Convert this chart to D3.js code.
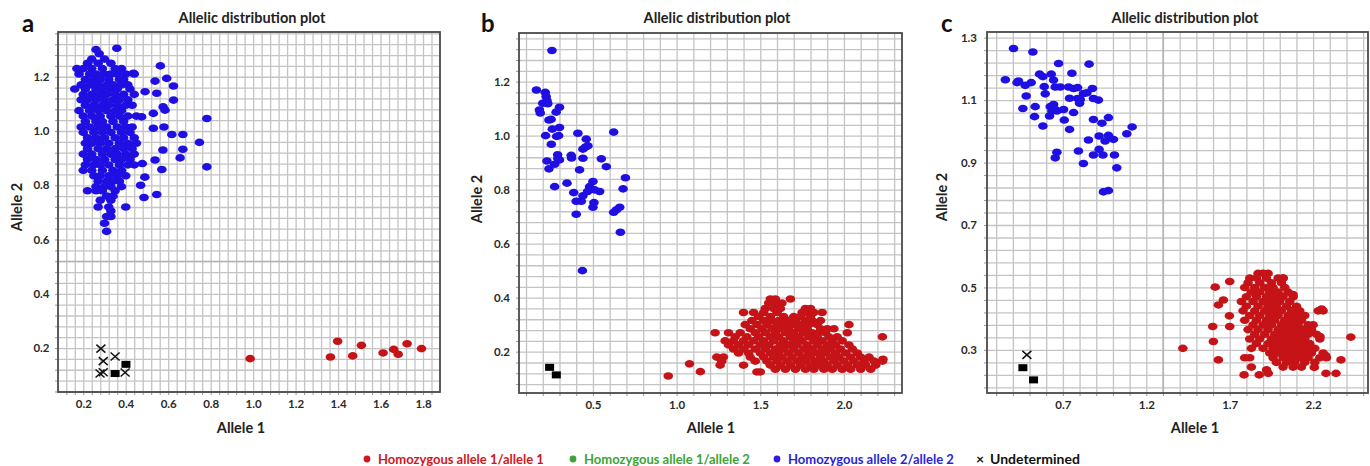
<!DOCTYPE html>
<html>
<head>
<meta charset="utf-8">
<script src="https://cdn.jsdelivr.net/npm/d3@7"></script>
<style>
  body { margin: 0; background: #fff; }
  svg text { font-family: Lato, "Open Sans", sans-serif; font-weight: bold; }
</style>
</head>
<body>
<svg id="chart" width="1370" height="466"></svg>
<script>
// ---- data (Allele 1 = x, Allele 2 = y) ----

// panel a: homozygous 2/2 cloud, rows of [allele2, [allele1 ...]]
const aBlueRows = [
  [1.30, [0.26]], [1.285, [0.275]], [1.265, [0.24, 0.3]],
  [1.25, [0.22, 0.27, 0.33]],
  [1.23, [0.17, 0.2, 0.24, 0.29, 0.35, 0.38]],
  [1.21, [0.18, 0.23, 0.26, 0.30, 0.33, 0.36, 0.40, 0.44]],
  [1.19, [0.21, 0.25, 0.28, 0.32, 0.37, 0.39]],
  [1.17, [0.19, 0.23, 0.27, 0.31, 0.34, 0.38, 0.41]],
  [1.155, [0.16, 0.21, 0.26, 0.29, 0.33, 0.36, 0.42]],
  [1.135, [0.2, 0.24, 0.28, 0.31, 0.35, 0.39, 0.44]],
  [1.115, [0.19, 0.22, 0.26, 0.30, 0.34, 0.37, 0.41]],
  [1.095, [0.21, 0.25, 0.29, 0.32, 0.36, 0.40, 0.43]],
  [1.075, [0.18, 0.23, 0.27, 0.31, 0.35, 0.38]],
  [1.055, [0.2, 0.24, 0.28, 0.33, 0.37, 0.41, 0.45]],
  [1.035, [0.21, 0.26, 0.29, 0.34, 0.39]],
  [1.015, [0.19, 0.23, 0.27, 0.31, 0.36, 0.4, 0.43]],
  [0.995, [0.2, 0.25, 0.29, 0.33, 0.38, 0.42]],
  [0.975, [0.22, 0.26, 0.3, 0.35, 0.39, 0.44]],
  [0.955, [0.21, 0.24, 0.28, 0.32, 0.37, 0.41, 0.45]],
  [0.935, [0.22, 0.27, 0.31, 0.35, 0.39, 0.43]],
  [0.915, [0.2, 0.24, 0.29, 0.33, 0.36, 0.4, 0.44]],
  [0.895, [0.22, 0.26, 0.3, 0.35, 0.38, 0.42]],
  [0.875, [0.21, 0.25, 0.28, 0.32, 0.37, 0.41, 0.44]],
  [0.855, [0.2, 0.24, 0.29, 0.34, 0.38]],
  [0.835, [0.25, 0.28, 0.32, 0.36, 0.4]],
  [0.815, [0.27, 0.31, 0.34, 0.37]],
  [0.795, [0.26, 0.3, 0.33, 0.38]],
  [0.78, [0.22, 0.26, 0.29, 0.35]],
  [0.76, [0.31, 0.34]], [0.745, [0.28, 0.33]],
  [0.72, [0.27, 0.32, 0.4]], [0.705, [0.33]],
  [0.685, [0.31, 0.33]], [0.66, [0.3]], [0.63, [0.31]],
];
const aBlueExtra = [
  [0.358, 1.305], [0.563, 1.24], [0.436, 1.213], [0.593, 1.194], [0.538, 1.184],
  [0.625, 1.166], [0.491, 1.145], [0.546, 1.139], [0.625, 1.114], [0.576, 1.089],
  [0.585, 1.077], [0.53, 1.065], [0.782, 1.046], [0.475, 1.052], [0.53, 1.01],
  [0.58, 1.015], [0.617, 0.987], [0.669, 0.987], [0.747, 0.958], [0.669, 0.933],
  [0.575, 0.93], [0.656, 0.901], [0.782, 0.868], [0.538, 0.893], [0.57, 0.858],
  [0.478, 0.88], [0.546, 0.766], [0.486, 0.755], [0.49, 0.83], [0.47, 0.8],
];
const aRed = [
  [0.986, 0.161], [1.364, 0.167], [1.398, 0.225], [1.469, 0.171], [1.51, 0.21],
  [1.612, 0.182], [1.662, 0.195], [1.683, 0.177], [1.725, 0.216], [1.793, 0.198],
];
const aUndetX = [
  [0.283, 0.198], [0.294, 0.152], [0.35, 0.169], [0.279, 0.106], [0.294, 0.111],
  [0.397, 0.11],
];
const aUndetSq = [[0.35, 0.106], [0.401, 0.14]];

// panel b
const bBlue = [
  [0.255, 1.315], [0.162, 1.169], [0.215, 1.16], [0.22, 1.145], [0.225, 1.13],
  [0.23, 1.118], [0.2, 1.12], [0.18, 1.095], [0.185, 1.084], [0.30, 1.105],
  [0.28, 1.087], [0.237, 1.058], [0.25, 1.06], [0.30, 1.03], [0.257, 1.024],
  [0.217, 1.0], [0.283, 0.997], [0.295, 1.0], [0.251, 0.968], [0.41, 1.009],
  [0.46, 0.987], [0.456, 0.958], [0.44, 0.95], [0.47, 0.962], [0.624, 1.013],
  [0.289, 0.929], [0.29, 0.915], [0.37, 0.927], [0.372, 0.917], [0.44, 0.916],
  [0.225, 0.906], [0.30, 0.91], [0.271, 0.894], [0.237, 0.877], [0.42, 0.873],
  [0.55, 0.914], [0.58, 0.885], [0.694, 0.844], [0.271, 0.811], [0.345, 0.824],
  [0.50, 0.83], [0.48, 0.811], [0.51, 0.799], [0.54, 0.793], [0.468, 0.793],
  [0.68, 0.803], [0.385, 0.789], [0.44, 0.777], [0.40, 0.757], [0.43, 0.757],
  [0.506, 0.752], [0.50, 0.735], [0.66, 0.735], [0.64, 0.725], [0.624, 0.716],
  [0.40, 0.709], [0.664, 0.642], [0.437, 0.50],
];
const bRedRows = [
  [0.395, [1.56, 1.59, 1.68]],
  [0.38, [1.55, 1.6, 1.63]],
  [0.36, [1.53, 1.58, 1.62, 1.77, 1.8]],
  [0.345, [1.4, 1.46, 1.52, 1.6, 1.75, 1.78, 1.82, 1.87]],
  [0.33, [1.49, 1.56, 1.64, 1.7, 1.74, 1.8]],
  [0.315, [1.45, 1.52, 1.57, 1.61, 1.66, 1.71, 1.77, 1.81, 1.86]],
  [0.3, [1.41, 1.48, 1.54, 1.6, 1.64, 1.69, 1.74, 1.79, 1.84, 2.03]],
  [0.285, [1.44, 1.51, 1.57, 1.62, 1.67, 1.73, 1.78, 1.86, 1.9, 1.94]],
  [0.27, [1.23, 1.31, 1.38, 1.47, 1.53, 1.59, 1.65, 1.7, 1.76, 1.81, 1.85, 1.89, 2.02]],
  [0.255, [1.35, 1.42, 1.49, 1.56, 1.61, 1.68, 1.73, 1.79, 1.84, 1.91, 1.96, 2.23]],
  [0.24, [1.29, 1.34, 1.4, 1.46, 1.52, 1.58, 1.64, 1.7, 1.75, 1.82, 1.87, 1.93, 1.99]],
  [0.225, [1.31, 1.37, 1.43, 1.5, 1.55, 1.62, 1.67, 1.72, 1.78, 1.84, 1.9, 1.95, 2.03]],
  [0.21, [1.34, 1.4, 1.47, 1.53, 1.59, 1.64, 1.7, 1.76, 1.81, 1.87, 1.92, 1.98, 2.05]],
  [0.195, [1.37, 1.43, 1.5, 1.56, 1.61, 1.67, 1.73, 1.79, 1.84, 1.89, 1.95, 2.01, 2.08]],
  [0.18, [1.24, 1.28, 1.44, 1.52, 1.58, 1.63, 1.69, 1.75, 1.8, 1.86, 1.92, 1.97, 2.04, 2.1, 2.15]],
  [0.165, [1.27, 1.47, 1.54, 1.6, 1.66, 1.72, 1.77, 1.83, 1.88, 1.94, 2.0, 2.06, 2.12, 2.18, 2.23]],
  [0.15, [1.26, 1.4, 1.56, 1.62, 1.68, 1.74, 1.8, 1.85, 1.9, 1.96, 2.02, 2.08, 2.13, 2.19]],
  [0.135, [1.59, 1.65, 1.71, 1.77, 1.82, 1.88, 1.93, 1.99, 2.04, 2.1, 2.16]],
  [0.125, [1.48, 1.5]],
];
const bRedExtra = [[0.95, 0.11], [1.077, 0.155], [1.142, 0.126], [2.233, 0.172]];
const bUndetSq = [[0.241, 0.142], [0.281, 0.114]];

// panel c
const cBlue = [
  [0.404, 1.265], [0.52, 1.254], [0.674, 1.217], [0.857, 1.215], [0.355, 1.165],
  [0.425, 1.156], [0.434, 1.161], [0.474, 1.147], [0.51, 1.156], [0.56, 1.183],
  [0.58, 1.175], [0.63, 1.183], [0.644, 1.164], [0.754, 1.186], [0.588, 1.143],
  [0.654, 1.142], [0.684, 1.142], [0.734, 1.142], [0.764, 1.137], [0.788, 1.14],
  [0.823, 1.121], [0.844, 1.123], [0.877, 1.137], [0.48, 1.113], [0.594, 1.12],
  [0.74, 1.106], [0.788, 1.105], [0.80, 1.09], [0.804, 1.102], [0.883, 1.105],
  [0.913, 1.10], [0.46, 1.073], [0.534, 1.079], [0.53, 1.047], [0.624, 1.079],
  [0.644, 1.086], [0.634, 1.065], [0.654, 1.07], [0.704, 1.07], [0.664, 1.065],
  [0.62, 1.049], [0.764, 1.06], [0.708, 1.036], [0.58, 1.017], [0.74, 1.006],
  [0.883, 1.038], [0.973, 1.044], [0.934, 1.026], [1.115, 1.014], [1.083, 0.992],
  [0.917, 0.985], [0.973, 0.987], [0.953, 0.969], [1.003, 0.974], [0.853, 0.972],
  [0.917, 0.942], [0.793, 0.937], [0.664, 0.933], [0.654, 0.915], [0.883, 0.924],
  [0.94, 0.924], [1.009, 0.924], [0.823, 0.897], [1.023, 0.883], [0.943, 0.806],
  [0.973, 0.81],
];
const cRedRows = [
  [0.545, [1.87, 1.9, 1.93]],
  [0.53, [1.82, 1.86, 1.92, 1.99, 2.02]],
  [0.515, [1.81, 1.88, 1.95, 2.01]],
  [0.5, [1.79, 1.85, 1.91, 1.96, 2.03]],
  [0.485, [1.83, 1.88, 1.94, 1.99, 2.05]],
  [0.47, [1.8, 1.86, 1.92, 1.97, 2.02, 2.08]],
  [0.455, [1.77, 1.84, 1.9, 1.95, 2.0, 2.06]],
  [0.44, [1.8, 1.87, 1.93, 1.98, 2.04, 2.1]],
  [0.425, [1.78, 1.85, 1.91, 1.96, 2.01, 2.07, 2.12, 2.23, 2.26]],
  [0.41, [1.82, 1.88, 1.94, 1.99, 2.05, 2.1, 2.15]],
  [0.395, [1.79, 1.86, 1.92, 1.97, 2.03, 2.08, 2.13]],
  [0.38, [1.84, 1.9, 1.95, 2.01, 2.06, 2.11, 2.17, 2.2]],
  [0.365, [1.81, 1.87, 1.93, 1.99, 2.04, 2.09, 2.14, 2.19]],
  [0.35, [1.85, 1.91, 1.97, 2.02, 2.07, 2.12, 2.17, 2.22]],
  [0.335, [1.82, 1.88, 1.95, 2.0, 2.05, 2.1, 2.15, 2.24]],
  [0.32, [1.86, 1.93, 1.98, 2.03, 2.08, 2.13, 2.18]],
  [0.305, [1.83, 1.9, 1.96, 2.01, 2.06, 2.11, 2.16, 2.21]],
  [0.29, [1.94, 1.99, 2.04, 2.09, 2.14, 2.19, 2.26]],
  [0.275, [1.79, 1.82, 1.96, 2.02, 2.07, 2.12, 2.17, 2.24, 2.28]],
  [0.26, [1.98, 2.04, 2.09, 2.15, 2.21]],
  [0.245, [1.83, 2.02, 2.08, 2.13]],
];
const cRedExtra = [
  [1.419, 0.305], [1.613, 0.501], [1.70, 0.519], [1.598, 0.375], [1.602, 0.327],
  [1.632, 0.268], [1.632, 0.444], [1.662, 0.46], [1.698, 0.409], [1.70, 0.375],
  [1.786, 0.22], [1.877, 0.22], [1.931, 0.225], [1.921, 0.236], [2.207, 0.244],
  [2.277, 0.225], [2.337, 0.225], [2.367, 0.268], [2.426, 0.341], [2.251, 0.431],
  [2.08, 0.477], [2.021, 0.53], [2.241, 0.343], [2.275, 0.282],
];
const cUndetX = [[0.484, 0.284]];
const cUndetSq = [[0.46, 0.243], [0.524, 0.204]];

// tick labels
const aXTicks = [0.2, 0.4, 0.6, 0.8, 1.0, 1.2, 1.4, 1.6, 1.8];
const aYTicks = [0.2, 0.4, 0.6, 0.8, 1.0, 1.2];
const bXTicks = [0.5, 1.0, 1.5, 2.0];
const bYTicks = [0.2, 0.4, 0.6, 0.8, 1.0, 1.2];
const cXTicks = [0.7, 1.2, 1.7, 2.2];
const cYTicks = [0.3, 0.5, 0.7, 0.9, 1.1, 1.3];

const legendLabels = ["Homozygous allele 1/allele 1", "Homozygous allele 1/allele 2",
  "Homozygous allele 2/allele 2", "Undetermined"];
const legendColors = ["#d0161d", "#3da334", "#2b1fd8", "#111111"];

const BLUE = "#1f0fe2";
const RED = "#c51318";

/**
 * Turns rows of [y, [x, ...]] into [x, y] points.
 * @param {Array} rows The rows.
 * @return {Array} Flat list of points.
 */
function expandRows(rows) {
  return rows.flatMap(([yv, xs]) => xs.map((xv) => [xv, yv]));
}

const panels = [
  {letter: "a", left: 58, right: 440, top: 32, bottom: 392,
    xDomain: [0.081, 1.88], yDomain: [0.038, 1.365],
    xTicks: aXTicks, yTicks: aYTicks, gx: [0, 0.04], gy: [0, 0.04],
    darkY: [0.52], darkX: [],
    blue: expandRows(aBlueRows).concat(aBlueExtra), red: aRed,
    undX: aUndetX, undSq: aUndetSq,
    letterX: 22, titleX: 252, yLabX: 22, yLabY: 207, xLabX: 241, yPad: 8.5},
  {letter: "b", left: 519, right: 902, top: 33, bottom: 393,
    xDomain: [0.058, 2.347], yDomain: [0.047, 1.38],
    xTicks: bXTicks, yTicks: bYTicks, gx: [0, 0.1], gy: [0, 0.04],
    darkY: [1.12], darkX: [],
    blue: bBlue, red: expandRows(bRedRows).concat(bRedExtra),
    undX: [], undSq: bUndetSq,
    letterX: 481, titleX: 717, yLabX: 482, yLabY: 199, xLabX: 711, yPad: 9},
  {letter: "c", left: 987, right: 1368, top: 32, bottom: 393,
    xDomain: [0.245, 2.529], yDomain: [0.162, 1.318],
    xTicks: cXTicks, yTicks: cYTicks, gx: [0, 0.1], gy: [0.3, 0.04],
    darkY: [], darkX: [1.3],
    blue: cBlue, red: expandRows(cRedRows).concat(cRedExtra),
    undX: cUndetX, undSq: cUndetSq,
    letterX: 941, titleX: 1185, yLabX: 947, yLabY: 197, xLabX: 1195, yPad: 10},
];

/**
 * Grid values between the domain ends.
 * @param {Array} domain The scale domain.
 * @param {Array} spec [base, step].
 * @return {Array} The values.
 */
function gridValues(domain, spec) {
  const [base, step] = spec;
  const k0 = Math.ceil((domain[0] - base) / step);
  const k1 = Math.floor((domain[1] - base) / step);
  return d3.range(k0, k1 + 1).map((k) => +(base + k * step).toFixed(4));
}

/**
 * Draws one allelic distribution panel.
 * @param {svg} svg The svg.
 * @param {object} p The panel options.
 */
function drawPanel(svg, p) {
  const x = d3.scaleLinear().domain(p.xDomain).range([p.left, p.right]);
  const y = d3.scaleLinear().domain(p.yDomain).range([p.bottom, p.top]);
  const w = p.right - p.left;
  const h = p.bottom - p.top;
  const fmt = d3.format(".1f");
  const g = svg.append("g");

  g.append("rect")
      .attr("x", p.left).attr("y", p.top)
      .attr("width", w).attr("height", h)
      .attr("fill", "#fff");

  const gxv = gridValues(p.xDomain, p.gx);
  const gyv = gridValues(p.yDomain, p.gy);

  // grid lines
  g.append("g")
      .attr("transform", "translate(0," + p.bottom + ")")
      .call(d3.axisBottom(x).tickValues(gxv).tickSize(-h).tickFormat(""))
      .call((a) => a.select(".domain").remove())
      .selectAll("line")
      .attr("stroke", "#c4c4c4").attr("stroke-width", 1.3);
  g.append("g")
      .attr("transform", "translate(" + p.left + ",0)")
      .call(d3.axisLeft(y).tickValues(gyv).tickSize(-w).tickFormat(""))
      .call((a) => a.select(".domain").remove())
      .selectAll("line")
      .attr("stroke", "#c4c4c4").attr("stroke-width", 1.3);

  p.darkY.forEach((v) => {
    g.append("line")
        .attr("x1", p.left).attr("x2", p.right)
        .attr("y1", y(v)).attr("y2", y(v))
        .attr("stroke", "#adadad").attr("stroke-width", 1.2);
  });
  p.darkX.forEach((v) => {
    g.append("line")
        .attr("x1", x(v)).attr("x2", x(v))
        .attr("y1", p.top).attr("y2", p.bottom)
        .attr("stroke", "#adadad").attr("stroke-width", 1.2);
  });

  // small outside ticks
  g.append("g")
      .attr("transform", "translate(0," + p.bottom + ")")
      .call(d3.axisBottom(x).tickValues(gxv).tickSize(3).tickFormat(""))
      .call((a) => a.select(".domain").remove())
      .selectAll("line").attr("stroke", "#999");
  g.append("g")
      .attr("transform", "translate(" + p.left + ",0)")
      .call(d3.axisLeft(y).tickValues(gyv).tickSize(3).tickFormat(""))
      .call((a) => a.select(".domain").remove())
      .selectAll("line").attr("stroke", "#999");

  g.append("rect")
      .attr("x", p.left).attr("y", p.top)
      .attr("width", w).attr("height", h)
      .attr("fill", "none")
      .attr("stroke", "#4a4a4a").attr("stroke-width", 1.8);

  // points
  g.append("g").selectAll("ellipse")
      .data(p.blue).join("ellipse")
      .attr("cx", (d) => x(d[0])).attr("cy", (d) => y(d[1]))
      .attr("rx", 4.8).attr("ry", 3.8)
      .attr("fill", BLUE);
  g.append("g").selectAll("ellipse")
      .data(p.red).join("ellipse")
      .attr("cx", (d) => x(d[0])).attr("cy", (d) => y(d[1]))
      .attr("rx", 4.8).attr("ry", 3.8)
      .attr("fill", RED);
  g.append("g").selectAll("rect")
      .data(p.undSq).join("rect")
      .attr("x", (d) => x(d[0]) - 4.5).attr("y", (d) => y(d[1]) - 3.5)
      .attr("width", 9).attr("height", 7)
      .attr("fill", "#000");
  g.append("g").selectAll("path")
      .data(p.undX).join("path")
      .attr("d", (d) => {
        const cx = x(d[0]);
        const cy = y(d[1]);
        return "M" + (cx - 4.5) + "," + (cy - 4) + "L" + (cx + 4.5) + "," + (cy + 4) +
          "M" + (cx - 4.5) + "," + (cy + 4) + "L" + (cx + 4.5) + "," + (cy - 4);
      })
      .attr("stroke", "#111").attr("stroke-width", 1.5).attr("fill", "none");

  // tick labels
  const xAxis = g.append("g")
      .attr("transform", "translate(0," + p.bottom + ")")
      .call(d3.axisBottom(x).tickValues(p.xTicks).tickSize(0).tickPadding(8)
          .tickFormat(fmt));
  xAxis.select(".domain").remove();
  xAxis.selectAll("text")
      .attr("font-size", 11.5).attr("fill", "#2a2a2a")
      .style("font-family", "Lato, sans-serif").style("font-weight", "bold");
  const yAxis = g.append("g")
      .attr("transform", "translate(" + p.left + ",0)")
      .call(d3.axisLeft(y).tickValues(p.yTicks).tickSize(0).tickPadding(p.yPad)
          .tickFormat(fmt));
  yAxis.select(".domain").remove();
  yAxis.selectAll("text")
      .attr("font-size", 11.5).attr("fill", "#2a2a2a")
      .style("font-family", "Lato, sans-serif").style("font-weight", "bold");

  // titles
  g.append("text")
      .attr("x", p.titleX).attr("y", 23)
      .attr("text-anchor", "middle")
      .attr("font-size", 14.5).attr("fill", "#222")
      .text("Allelic distribution plot");
  g.append("text")
      .attr("x", p.letterX).attr("y", 32)
      .attr("font-size", 24).attr("fill", "#111")
      .text(p.letter);
  g.append("text")
      .attr("x", p.xLabX).attr("y", 433)
      .attr("text-anchor", "middle")
      .attr("font-size", 14.5).attr("fill", "#222")
      .text("Allele 1");
  g.append("text")
      .attr("transform", "translate(" + p.yLabX + "," + p.yLabY + ") rotate(-90)")
      .attr("text-anchor", "middle")
      .attr("font-size", 14.5).attr("fill", "#222")
      .text("Allele 2");
}

/**
 * Draws the legend below the three panels.
 * @param {svg} svg The svg.
 */
function drawLegend(svg) {
  const starts = [367, 573, 777, 980];
  const g = svg.append("g");
  legendLabels.forEach((label, i) => {
    if (i < 3) {
      g.append("circle")
          .attr("cx", starts[i]).attr("cy", 459)
          .attr("r", 3.4)
          .attr("fill", legendColors[i]);
      g.append("text")
          .attr("x", starts[i] + 11).attr("y", 463.5)
          .attr("font-size", 13).attr("fill", legendColors[i])
          .text(label);
    } else {
      g.append("text")
          .attr("x", starts[i] - 4).attr("y", 463.5)
          .attr("font-size", 14).attr("fill", legendColors[i])
          .text("\u00d7");
      g.append("text")
          .attr("x", starts[i] + 10).attr("y", 464)
          .attr("font-size", 14).attr("fill", legendColors[i])
          .text(label);
    }
  });
}

const svg = d3.select("svg#chart");
panels.forEach((p) => drawPanel(svg, p));
drawLegend(svg);
</script>
</body>
</html>
